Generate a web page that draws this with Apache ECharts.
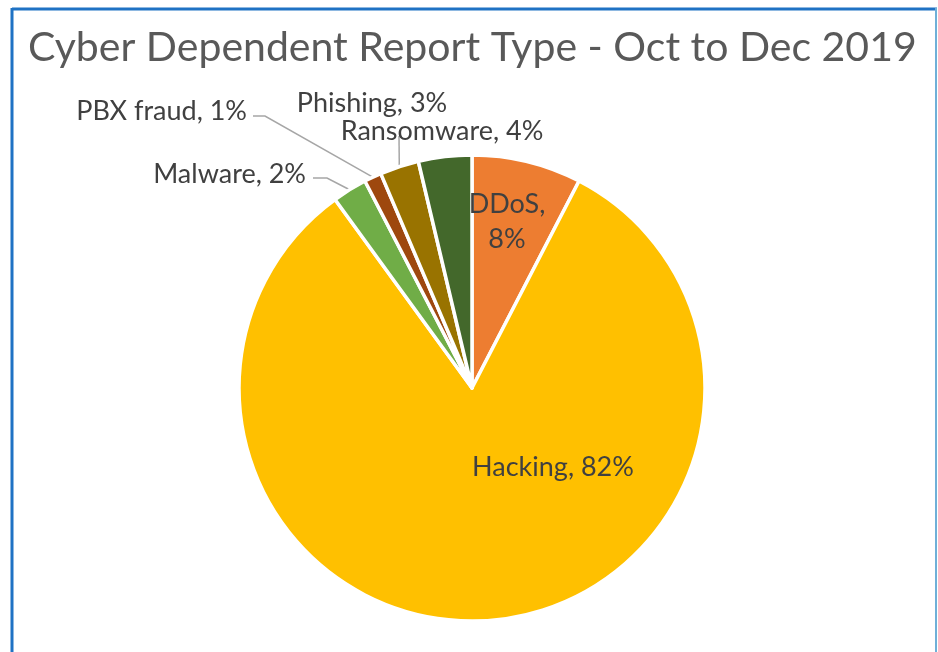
<!DOCTYPE html>
<html><head><meta charset="utf-8">
<script src="https://cdn.jsdelivr.net/npm/echarts@6/dist/echarts.min.js"></script>
<style>html,body{margin:0;padding:0;background:#fff}#c{width:938px;height:652px}</style>
</head><body><div id="c"></div>
<script>
// ---- data ----
const categories = ['DDoS', 'Hacking', 'Malware', 'PBX fraud', 'Phishing', 'Ransomware'];
const values = [7.6, 82.4, 2.4, 1.2, 2.7, 3.7];
const colors = ['#ED7D31', '#FFC000', '#70AD47', '#9E480E', '#997300', '#43682B'];
const titleText = 'Cyber Dependent Report Type - Oct to Dec 2019';

// ---- label placement (layout only) ----
const labelSpots = {
  'DDoS':       { x: 507, y: 222, align: 'center' },
  'Hacking':    { x: 553, y: 467, align: 'center' },
  'Malware':    { x: 306, y: 174, align: 'right', line: [[327, 178], [313, 178]] },
  'PBX fraud':  { x: 247, y: 111, align: 'right', line: [[265, 116], [253, 116]] },
  'Phishing':   { x: 372, y: 103, align: 'center', line: [[399, 136]] },
  'Ransomware': { x: 442, y: 131, align: 'center' }
};
const insideCats = ['DDoS', 'Hacking'];
const FONT = 'Lato';

const chart = echarts.init(document.getElementById('c'), null, { renderer: 'canvas' });

const data = categories.map((name, i) => {
  const inside = insideCats.includes(name);
  return {
    name,
    value: values[i],
    itemStyle: { color: colors[i] },
    label: {
      position: inside ? 'inside' : 'outside',
      formatter: name === 'DDoS' ? '{b},\n{d}%' : '{b}, {d}%'
    },
    labelLine: { show: !!labelSpots[name].line }
  };
});

chart.setOption({
  animation: false,
  backgroundColor: '#ffffff',
  title: {
    text: titleText,
    left: 23,
    top: 22,
    textStyle: { fontFamily: FONT, fontSize: 41, fontWeight: 'normal', color: '#595959' }
  },
  graphic: [
    { type: 'line', shape: { x1: 12, y1: 9, x2: 937, y2: 9 }, style: { stroke: '#1F72C4', lineWidth: 3 } },
    { type: 'line', shape: { x1: 12, y1: 8, x2: 12, y2: 652 }, style: { stroke: '#1F72C4', lineWidth: 3 } },
    { type: 'line', shape: { x1: 936, y1: 8, x2: 936, y2: 652 }, style: { stroke: '#6FB0D8', lineWidth: 2 } }
  ],
  series: [{
    type: 'pie',
    center: [472, 388],
    radius: 233,
    startAngle: 90,
    clockwise: true,
    percentPrecision: 0,
    avoidLabelOverlap: false,
    itemStyle: { borderColor: '#ffffff', borderWidth: 3.5 },
    label: {
      fontFamily: FONT,
      fontSize: 27,
      color: '#404040',
      lineHeight: 35
    },
    labelLine: { lineStyle: { color: '#A6A6A6', width: 1.5 }, length: 10, length2: 10 },
    labelLayout: function (params) {
      const name = categories[params.dataIndex];
      const s = labelSpots[name];
      const out = { x: s.x, y: s.y, align: s.align, verticalAlign: 'middle' };
      if (s.line && params.labelLinePoints) {
        out.labelLinePoints = [params.labelLinePoints[0]].concat(s.line);
      }
      return out;
    },
    data
  }]
});
</script>
</body></html>
